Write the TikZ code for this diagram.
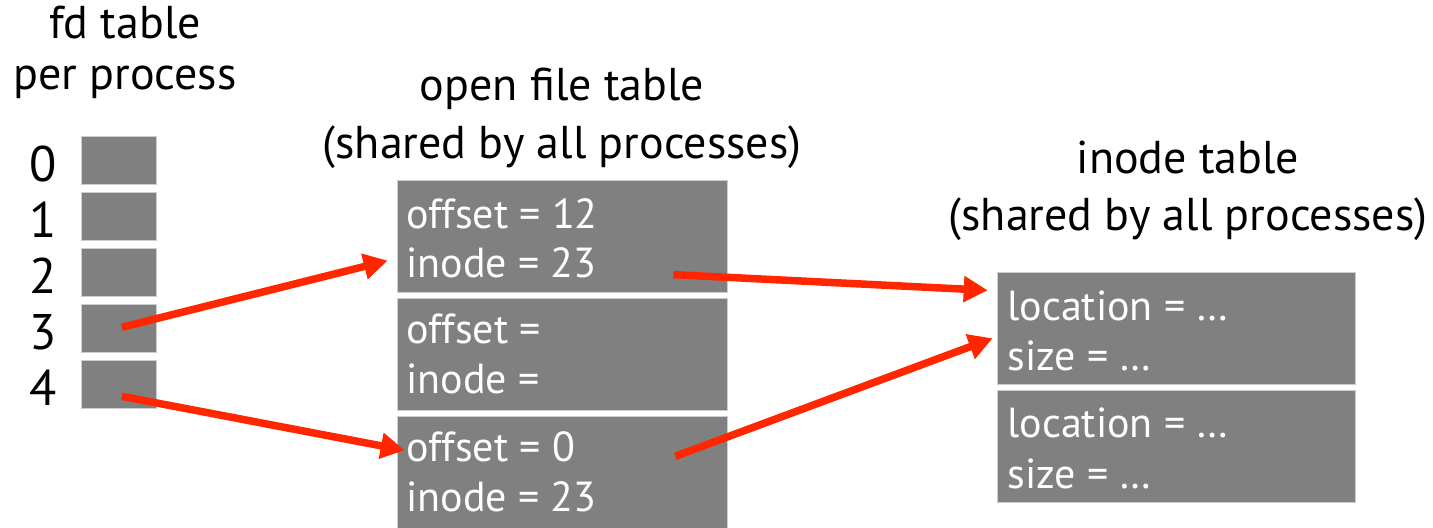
\documentclass[tikz,border=0pt]{standalone}
\usepackage{fontspec}
\setmainfont{PT Sans}
\usetikzlibrary{arrows.meta,calc}
\definecolor{boxgray}{RGB}{128,128,128}
\definecolor{edgegray}{RGB}{205,205,205}
\definecolor{arrred}{RGB}{255,38,0}
\begin{document}
\begin{tikzpicture}[x=0.5pt,y=-0.5pt,
  cell/.style={draw=edgegray, line width=0.6pt, fill=boxgray, inner sep=0pt, anchor=north west},
  fdcell/.style={cell, minimum width=37.5pt, minimum height=24pt},
  ofcell/.style={cell, minimum width=165pt, minimum height=56pt},
  incell/.style={cell, minimum width=179pt, minimum height=56pt},
  lbl/.style={text=white, font=\fontsize{21}{25}\selectfont, anchor=base west, inner sep=0pt},
  ttl/.style={text=black, font=\fontsize{23}{28}\selectfont, anchor=base, inner sep=0pt},
  idx/.style={text=black, font=\fontsize{25}{30}\selectfont, anchor=base, inner sep=0pt},
  conn/.style={draw=arrred, line width=3.75pt, -{Triangle[length=12pt,width=12.5pt]}}]
\useasboundingbox (0,0) rectangle (1433,527);

% titles
\node[ttl] (t1a) at (125,38) {fd table};
\node[ttl] (t1b) at (125,89) {per process};
\node[ttl] (t2a) at (562,100) {open file table};
\node[ttl] (t2b) at (562,158) {(shared by all processes)};
\node[ttl] (t3a) at (1188,173) {inode table};
\node[ttl] (t3b) at (1188,230) {(shared by all processes)};

% fd table
\foreach \i in {0,...,4} {
  \node[fdcell] (fd\i) at (80.7,{135.7+56*\i}) {};
  \node[idx] (n\i) at (43,{181+56*\i}) {\i};
}

% open file table
\node[ofcell] (ofA) at (396.7,180) {};
\node[ofcell] (ofB) at (396.7,297.7) {};
\node[ofcell] (ofC) at (396.7,415.7) {};
\node[lbl] (ofA1) at (406,228) {offset = 12};
\node[lbl] (ofA2) at (406,277) {inode = 23};
\node[lbl] (ofB1) at (406,343) {offset =};
\node[lbl] (ofB2) at (406,393) {inode =};
\node[lbl] (ofC1) at (406,461.7) {offset = 0};
\node[lbl] (ofC2) at (406,511.7) {inode = 23};

% inode table
\node[incell] (inA) at (996.7,271.7) {};
\node[incell] (inB) at (996.7,390) {};
\node[lbl] (inA1) at (1007,320) {location = \dots};
\node[lbl] (inA2) at (1007,370) {size = \dots};
\node[lbl] (inB1) at (1007,437) {location = \dots};
\node[lbl] (inB2) at (1007,488) {size = \dots};

% connectors
\coordinate (s3) at ($(fd3.center)+(3,-1)$);
\coordinate (s4) at ($(fd4.center)+(3,12)$);
\coordinate (e3) at ($(ofA.west)+(-9,24)$);
\coordinate (e4) at ($(ofC.west)+(8,-22)$);
\coordinate (sA) at ($(ofA.center)+(111,38)$);
\coordinate (sC) at ($(ofC.center)+(113,-16)$);
\coordinate (eA) at ($(inA.west)+(-9,-38)$);
\coordinate (eC) at ($(inA.west)+(-4,10)$);
\draw[conn] (s3) -- (e3);
\draw[conn] (s4) -- (e4);
\draw[conn] (sA) -- (eA);
\draw[conn] (sC) -- (eC);
\end{tikzpicture}
\end{document}
